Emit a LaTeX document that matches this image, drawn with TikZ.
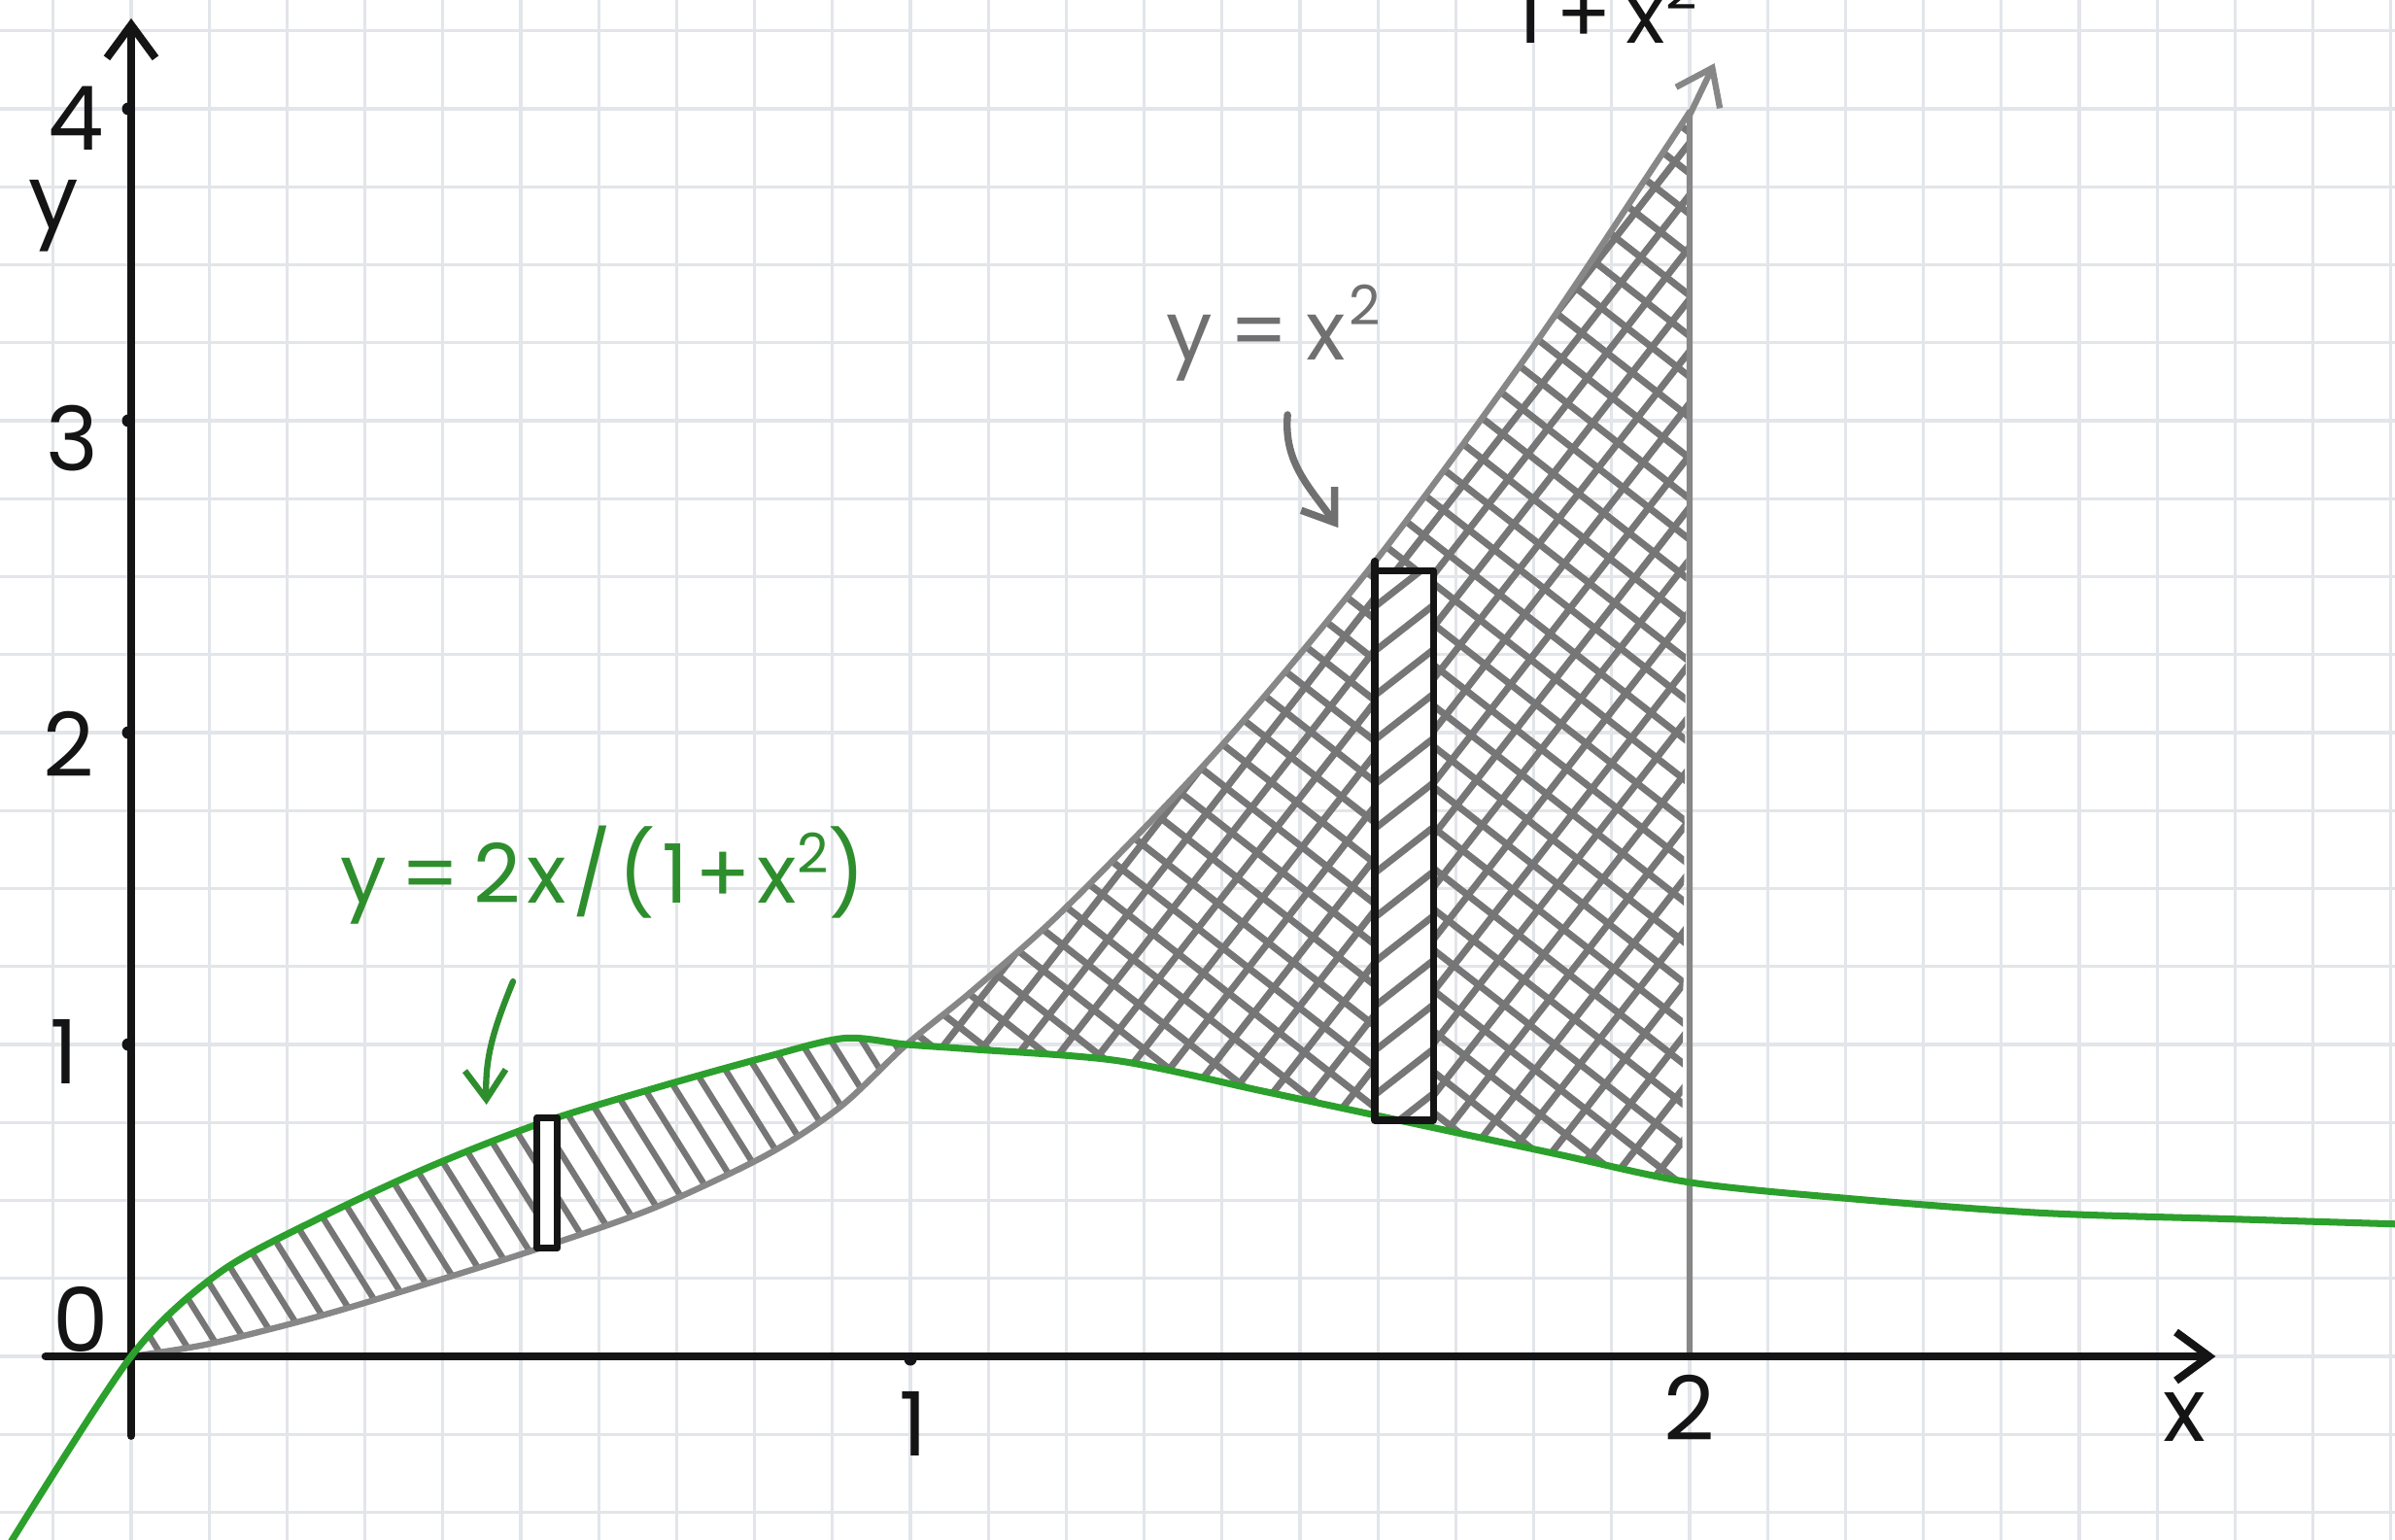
\documentclass[tikz,border=0pt]{standalone}
\usepackage{fontspec}
\setmainfont{Poppins}
\newfontfamily\handfont[LetterSpace=8]{Poppins}
\usetikzlibrary{arrows.meta}
\definecolor{gridc}{RGB}{226,229,233}
\definecolor{hgray}{RGB}{118,118,118}
\definecolor{cgray}{RGB}{135,135,135}
\definecolor{cgreen}{RGB}{44,160,44}
\definecolor{lgreen}{RGB}{46,142,46}
\definecolor{inkblack}{RGB}{20,20,20}
\definecolor{lgray}{RGB}{112,112,112}
\newcommand\hatchlines[3]{%
  \foreach \k [evaluate=\k as \yy using \k*#2] in {-75,...,75}
    \draw[#3, rotate=#1] (-32cm,\yy cm) -- (32cm,\yy cm);}
\newcommand\suptwo[1]{\raisebox{#1}{\fontsize{16}{16}\selectfont 2}}
\begin{document}
\begin{tikzpicture}[x=8.02cm, y=3.21cm, line cap=round, line join=round,
  gridline/.style={draw=gridc, line width=0.9pt},
  axisline/.style={draw=inkblack, line width=2.3pt, -{Straight Barb[length=3.4mm,width=5mm]}},
  hatchA/.style={draw=hgray, line width=1.8pt},
  hatchB/.style={draw=hgray, line width=2pt},
  graycurve/.style={draw=cgray, line width=1.8pt},
  greencurve/.style={draw=cgreen, line width=2pt},
  stripbox/.style={draw=inkblack, line width=2pt},
  ticklab/.style={inner sep=0pt, text=inkblack, font=\fontsize{26}{30}\selectfont},
  curvelab/.style={inner sep=0pt, font=\handfont\fontsize{24}{28}\selectfont},
  tickdot/.style={fill=inkblack}]
\useasboundingbox (-0.16833,-0.58567) rectangle (2.90524,4.34891);
\clip (-0.16833,-0.58567) rectangle (2.90524,4.34891);
\fill[white] (-0.16833,-0.58567) rectangle (2.90524,4.34891);
% grid
\foreach \k in {-1,...,29} \draw[gridline] (\k/10,-0.6) -- (\k/10,4.4);
\foreach \k in {-2,...,17} \draw[gridline] (-0.2,\k/4) -- (2.95,\k/4);
% hatch between curves, 0<x<1
\begin{scope}
\clip plot[smooth] coordinates {(0,0) (0.113,0.268) (0.243,0.445) (0.385,0.61) (0.528,0.75) (0.672,0.86) (0.815,0.96) (0.915,1.02) (0.995,1.0)}
  -- plot[smooth] coordinates {(0.995,1.0) (0.91,0.80) (0.815,0.645) (0.672,0.477) (0.528,0.35) (0.385,0.237) (0.243,0.13) (0.1,0.04) (0,0)} -- cycle;
\hatchlines{-58}{0.27}{hatchA}
\end{scope}
% cross hatch, 1<x<2
\begin{scope}
\clip plot[smooth] coordinates {(0.995,1.0) (1.079,1.171) (1.2,1.44) (1.4,1.96) (1.6,2.56) (1.8,3.24) (1.95,3.8) (2.0,4.0)}
  -- (1.99,0.56) -- plot[smooth] coordinates {(1.99,0.56) (1.827,0.65) (1.627,0.757) (1.453,0.85) (1.266,0.948) (1.079,0.985) (0.995,1.0)} -- cycle;
\hatchlines{-38}{0.33}{hatchB}
\hatchlines{52}{0.33}{hatchB}
\end{scope}
% big strip interior
\fill[white] (1.596,0.757) rectangle (1.671,2.52);
\begin{scope}
\clip (1.596,0.757) rectangle (1.671,2.52);
\hatchlines{38}{0.36}{hatchB}
\end{scope}
% gray curve y = x^2 and the line x = 2
\draw[graycurve] plot[smooth] coordinates {(0,0) (0.1,0.04) (0.243,0.13) (0.385,0.237) (0.528,0.35) (0.672,0.477) (0.815,0.645) (0.91,0.80) (0.995,1.0) (1.079,1.171) (1.2,1.44) (1.4,1.96) (1.6,2.56) (1.8,3.24) (1.95,3.8) (2.0,3.99)};
\coordinate (xtwo) at (2,0);
\coordinate (xtwotop) at (2,3.98);
\coordinate (xtwotip) at (2.032,4.146);
\draw[graycurve, -{Straight Barb[length=3.4mm,width=5mm]}] (xtwo) -- (xtwotop) -- (xtwotip);
% axes
\coordinate (xstart) at (-0.11,0);
\coordinate (xend) at (2.675,0);
\coordinate (ystart) at (0,-0.255);
\coordinate (yend) at (0,4.29);
\draw[axisline] (xstart) -- (xend);
\draw[axisline] (ystart) -- (yend);
\foreach \k in {1,2,3,4} \fill[tickdot] ([xshift=-0.03cm]0,\k) circle (0.065cm);
\fill[tickdot] ([yshift=-0.03cm]1,0) circle (0.065cm);
% green curve
\draw[greencurve] plot[smooth] coordinates {(-0.158,-0.61) (0,0) (0.113,0.268) (0.243,0.445) (0.385,0.61) (0.528,0.75) (0.672,0.86) (0.815,0.96) (0.915,1.02) (0.995,1.0) (1.079,0.985) (1.266,0.948) (1.453,0.85) (1.627,0.757) (1.827,0.65) (2.0,0.558) (2.2,0.507) (2.45,0.46) (2.70,0.44) (2.91,0.424)};
% strips
\draw[stripbox, fill=white] (0.521,0.346) rectangle (0.547,0.766);
\draw[stripbox] (1.596,0.757) rectangle (1.671,2.52);
\draw[stripbox] (1.596,2.52) -- (1.596,2.55);
% tick labels
\node[ticklab] (ly4) at (-0.071,3.969) {4};
\node[ticklab] (ly3) at (-0.075,2.944) {3};
\node[ticklab] (ly2) at (-0.08,1.963) {2};
\node[ticklab] (ly1) at (-0.086,0.978) {1};
\node[ticklab] (ly0) at (-0.064,0.118) {0};
\node[ticklab] (lx1) at (1.004,-0.215) {1};
\node[ticklab] (lx2) at (2.0,-0.165) {2};
\node[ticklab] (ylab) at (-0.1,3.657) {y};
\node[ticklab] (xlab) at (2.635,-0.196) {x};
% curve labels
\node[curvelab, text=lgray, anchor=base west] (sqlab) at (1.328,3.196) {y\kern5pt=\kern5pt x\kern1pt\suptwo{10pt}};
\node[curvelab, text=lgreen, anchor=base west] (grlab) at (0.268,1.452) {y\,=\,2x/(1+x\suptwo{9pt})};
\node[curvelab, text=inkblack, anchor=base west] (toplab) at (1.777,4.209) {1\,+\,x\suptwo{10pt}};
% label arrows
\coordinate (sqa) at (1.484,3.019);
\coordinate (sqb) at (1.549,2.657);
\draw[draw=lgray, line width=2.1pt, -{Straight Barb[length=3mm,width=4.2mm]}] (sqa) to[out=-95, in=125] (sqb);
\coordinate (gra) at (0.49,1.202);
\coordinate (grb) at (0.456,0.807);
\draw[draw=lgreen, line width=1.8pt, -{Straight Barb[length=3mm,width=4.2mm]}] (gra) to[out=-112, in=92] (grb);
\end{tikzpicture}
\end{document}
